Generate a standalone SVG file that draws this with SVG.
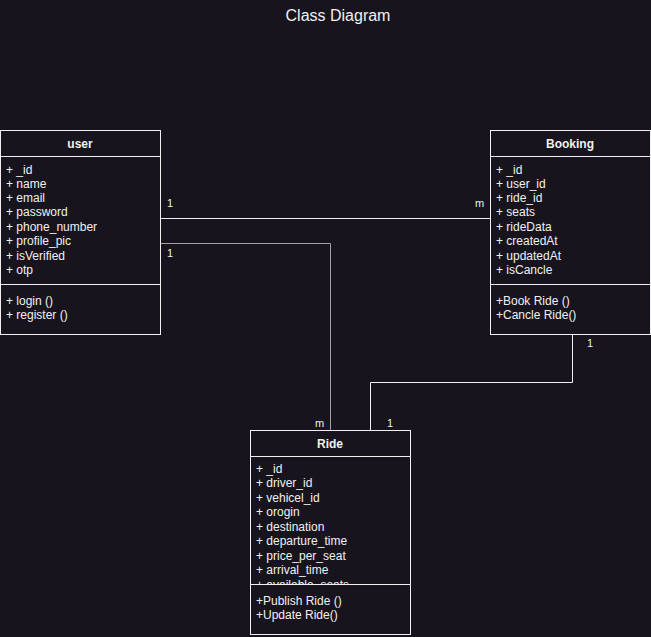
<svg xmlns="http://www.w3.org/2000/svg" width="651" height="637" viewBox="0 0 651 637">
<style>
text{font-family:"Liberation Sans",Arial,sans-serif;fill:#f0f0f0;font-size:12px}
.t{font-size:16px;text-anchor:middle}
.h{font-weight:bold;text-anchor:middle}
.lb{font-size:11px}
.box{fill:#18141d;stroke:#f0f0f0;stroke-width:1}
.ln{fill:none;stroke:#f0f0f0;stroke-width:1}
.gl{fill:none;stroke:#a0a0a0;stroke-width:1}
</style>
<defs>
<clipPath id="rideClip"><rect x="250" y="456" width="160" height="128"/></clipPath>
</defs>
<rect width="651" height="637" fill="#18141d"/>
<text class="t" x="338" y="21">Class Diagram</text>
<g id="connectors">
<path class="ln" d="M160.5 218.5H490"/>
<path class="gl" d="M160.5 243.5H330.5V430"/>
<path class="ln" d="M572.5 334V382.5H370.5V430"/>
<text class="lb" x="167" y="207">1</text>
<text class="lb" x="475" y="207">m</text>
<text class="lb" x="167" y="257">1</text>
<text class="lb" x="315" y="427">m</text>
<text class="lb" x="387" y="427">1</text>
<text class="lb" x="587" y="347">1</text>
</g>
<g id="user">
<rect class="box" x="0.5" y="130.5" width="160" height="204"/>
<path class="ln" d="M0.5 156.5H160.5M0.5 284.5H160.5"/>
<text class="h" x="80" y="148">user</text>
<text x="6" y="174">+ _id</text>
<text x="6" y="188">+ name</text>
<text x="6" y="202">+ email</text>
<text x="6" y="216">+ password</text>
<text x="6" y="231">+ phone_number</text>
<text x="6" y="245">+ profile_pic</text>
<text x="6" y="260">+ isVerified</text>
<text x="6" y="274">+ otp</text>
<text x="6" y="305">+ login ()</text>
<text x="6" y="319">+ register ()</text>
</g>
<g id="booking">
<rect class="box" x="490.5" y="130.5" width="160" height="204"/>
<path class="ln" d="M490.5 156.5H650.5M490.5 284.5H650.5"/>
<text class="h" x="570" y="148">Booking</text>
<text x="496" y="174">+ _id</text>
<text x="496" y="188">+ user_id</text>
<text x="496" y="202">+ ride_id</text>
<text x="496" y="216">+ seats</text>
<text x="496" y="231">+ rideData</text>
<text x="496" y="245">+ createdAt</text>
<text x="496" y="260">+ updatedAt</text>
<text x="496" y="274">+ isCancle</text>
<text x="496" y="305">+Book Ride ()</text>
<text x="496" y="319">+Cancle Ride()</text>
</g>
<g id="ride">
<rect class="box" x="250.5" y="430.5" width="160" height="204"/>
<path class="ln" d="M250.5 456.5H410.5M250.5 584.5H410.5"/>
<text class="h" x="330" y="448">Ride</text>
<g clip-path="url(#rideClip)">
<text x="256" y="473">+ _id</text>
<text x="256" y="487">+ driver_id</text>
<text x="256" y="502">+ vehicel_id</text>
<text x="256" y="516">+ orogin</text>
<text x="256" y="531">+ destination</text>
<text x="256" y="545">+ departure_time</text>
<text x="256" y="560">+ price_per_seat</text>
<text x="256" y="574">+ arrival_time</text>
<text x="256" y="589">+ available_seats</text>
</g>
<text x="256" y="605">+Publish Ride ()</text>
<text x="256" y="619">+Update Ride()</text>
</g>
</svg>
